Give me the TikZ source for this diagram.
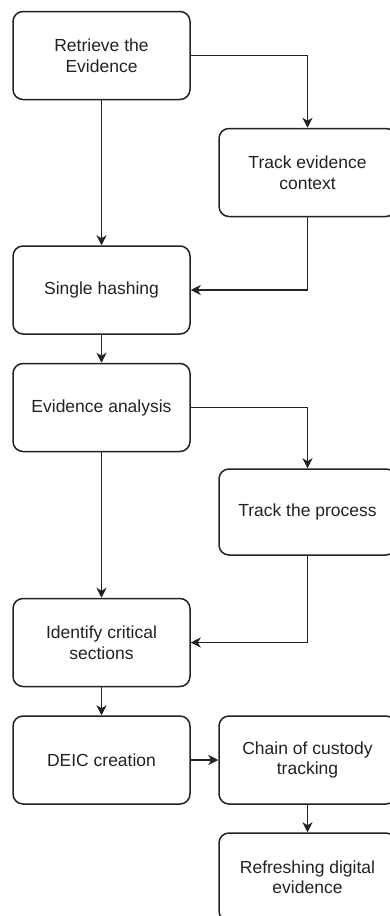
\documentclass[tikz,border=0pt]{standalone}
\usepackage{fontspec}
\setmainfont{Liberation Sans}
\usetikzlibrary{arrows.meta}
\definecolor{ink}{HTML}{222222}
\begin{document}
\begin{tikzpicture}[x=1pt,y=-1pt,
  box/.style={draw=ink, line width=1.5pt, rounded corners=10pt, minimum width=177pt, minimum height=88pt,
    inner sep=0pt, align=center, text=ink, font=\fontsize{17.5}{20.5}\selectfont},
  conn/.style={draw=ink, line width=1.6pt, -{Stealth[length=10pt,width=10pt,inset=3pt]}}]
\useasboundingbox (0,0) rectangle (390,916);
\node[box] (b1) at (101.5,55.5) {Retrieve the\\Evidence};
\node[box] (b2) at (307.5,172.5) {Track evidence\\context};
\node[box] (b3) at (101.5,290) {Single hashing};
\node[box] (b4) at (101.5,407.5) {Evidence analysis};
\node[box, minimum height=86pt] (b5) at (307.5,512) {Track the process};
\node[box] (b6) at (101.5,642.5) {Identify critical\\sections};
\node[box] (b7) at (101.5,760) {DEIC creation};
\node[box] (b8) at (307.5,760) {Chain of custody\\tracking};
\node[box] (b9) at (307.5,877) {Refreshing digital\\evidence};
\draw[conn] (b1.south) -- (b3.north);
\draw[conn] (b1.east) -| (b2.north);
\draw[conn] (b2.south) |- (b3.east);
\draw[conn] (b3.south) -- (b4.north);
\draw[conn] (b4.east) -| (b5.north);
\draw[conn] (b5.south) |- (b6.east);
\draw[conn] (b4.south) -- (b6.north);
\draw[conn] (b6.south) -- (b7.north);
\draw[conn] (b7.east) -- (b8.west);
\draw[conn] (b8.south) -- (b9.north);
\end{tikzpicture}
\end{document}
